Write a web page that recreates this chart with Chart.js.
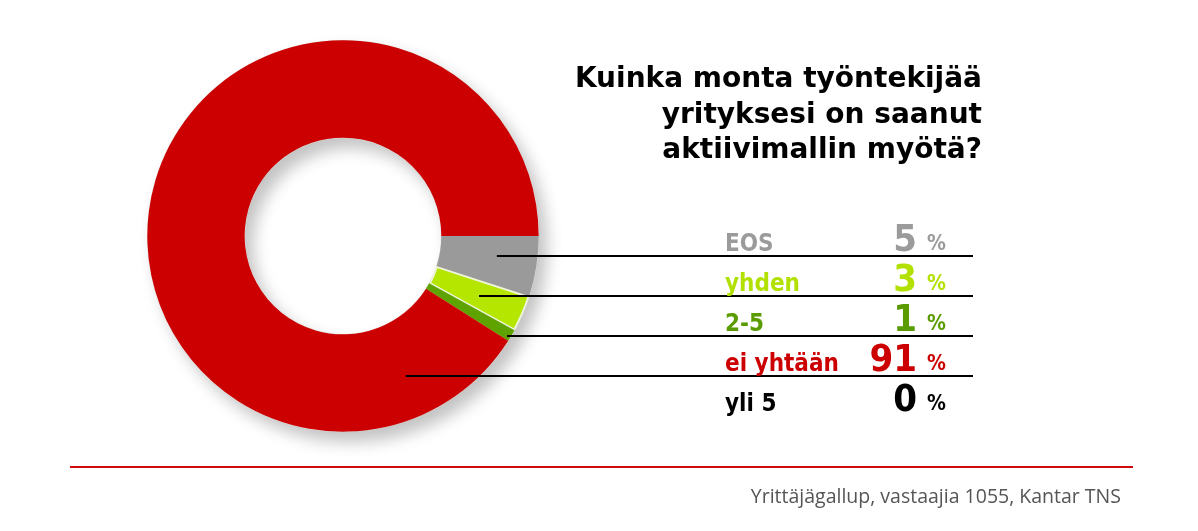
<!DOCTYPE html>
<html>
<head>
<meta charset="utf-8">
<script src="https://cdn.jsdelivr.net/npm/chart.js@4/dist/chart.umd.min.js"></script>
<style>
  body { margin: 0; background: #fff; }
  #wrap { position: relative; width: 1198px; height: 531px; overflow: hidden; }
  #chart { position: absolute; left: 0; top: 0; }
  .t { position: absolute; white-space: nowrap; line-height: 1; }
  .title { font-family: "DejaVu Sans"; font-weight: bold; font-size: 28px; color: #000; text-align: right; }
  .lab { font-family: "DejaVu Sans Condensed", "DejaVu Sans"; font-weight: bold; font-size: 24px; }
  .num { font-family: "DejaVu Sans Condensed", "DejaVu Sans"; font-weight: bold; font-size: 38px; text-align: right; }
  .pct { font-family: "DejaVu Sans Condensed", "DejaVu Sans"; font-weight: bold; font-size: 21px; }
  #rule { position: absolute; left: 70px; top: 465.5px; width: 1063px; height: 2px; background: #d00a0a; }
  .src { font-family: "Open Sans"; font-size: 19.5px; color: #555; }
</style>
</head>
<body>
<div id="wrap">
  <canvas id="chart" width="1198" height="531"></canvas>
  <div id="rule"></div>
</div>
<script>
const categories = ['EOS', 'yhden', '2-5', 'ei yhtään', 'yli 5'];
const shares = [5, 3, 1, 91, 0];
const sliceColors = ['#9a9a9a', '#b5e600', '#5fa300', '#cc0000', '#000000'];
const labelColors = ['#9b9b9b', '#b2e000', '#5a9c00', '#cc0000', '#000000'];
const titleLines = ['Kuinka monta työntekijää', 'yrityksesi on saanut', 'aktiivimallin myötä?'];
const sourceText = 'Yrittäjägallup, vastaajia 1055, Kantar TNS';

// layout
const rowBase = 251, rowStep = 40;
const labelX = 725, numRight = 917, pctX = 927, lineEnd = 973;
const leaderStart = [0.785, 0.694, 0.837, 0.32]; // fraction of outer radius, from centre
const wrap = document.getElementById('wrap');

function addText(cls, text, baseline, size, left, right, color, k) {
  const d = document.createElement('div');
  d.className = 't ' + cls;
  d.textContent = text;
  d.style.top = (baseline - (k || 0.846) * size) + 'px';
  if (left != null) d.style.left = left + 'px';
  if (right != null) d.style.right = (1198 - right) + 'px';
  if (color) d.style.color = color;
  wrap.appendChild(d);
}

titleLines.forEach((s, i) => addText('title', s, 88 + i * 35.5, 28, null, 982));
categories.forEach((c, i) => {
  const b = rowBase + i * rowStep;
  addText('lab', c, b, 24, labelX, null, labelColors[i]);
  addText('num', String(shares[i]), b, 38, null, numRight, labelColors[i]);
  addText('pct', '%', b, 21, pctX, null, labelColors[i]);
});
addText('src', sourceText, 503, 19.5, null, 1121, null, 0.888);

const ringShadow = {
  id: 'ringShadow',
  beforeDatasetsDraw(chart) {
    const a = chart.getDatasetMeta(0).data[0];
    const ctx = chart.ctx;
    ctx.save();
    ctx.shadowColor = 'rgba(0,0,0,0.24)';
    ctx.shadowBlur = 16;
    ctx.shadowOffsetX = 8;
    ctx.shadowOffsetY = 10;
    ctx.fillStyle = '#dddddd';
    ctx.beginPath();
    ctx.arc(a.x, a.y, a.outerRadius, 0, Math.PI * 2);
    ctx.arc(a.x, a.y, a.innerRadius, 0, Math.PI * 2, true);
    ctx.fill('evenodd');
    ctx.restore();
  },
  afterDatasetsDraw(chart) {
    const a = chart.getDatasetMeta(0).data[0];
    const ctx = chart.ctx;
    ctx.save();
    ctx.strokeStyle = '#000';
    ctx.lineWidth = 2;
    leaderStart.forEach((k, i) => {
      const y = rowBase + i * rowStep + 5;
      ctx.beginPath();
      ctx.moveTo(a.x + k * a.outerRadius, y);
      ctx.lineTo(lineEnd, y);
      ctx.stroke();
    });
    ctx.restore();
  }
};

new Chart(document.getElementById('chart'), {
  type: 'doughnut',
  data: {
    labels: categories,
    datasets: [{
      data: shares,
      backgroundColor: sliceColors,
      borderColor: '#eef3dc',
      borderWidth: [0, 1.5, 0, 0, 0],
      borderAlign: 'inner'
    }]
  },
  options: {
    responsive: false,
    animation: false,
    rotation: 90,
    cutout: '50%',
    layout: { padding: { left: 147, top: 40, right: 659, bottom: 99 } },
    plugins: { legend: { display: false }, tooltip: { enabled: false } }
  },
  plugins: [ringShadow]
});
</script>
</body>
</html>
